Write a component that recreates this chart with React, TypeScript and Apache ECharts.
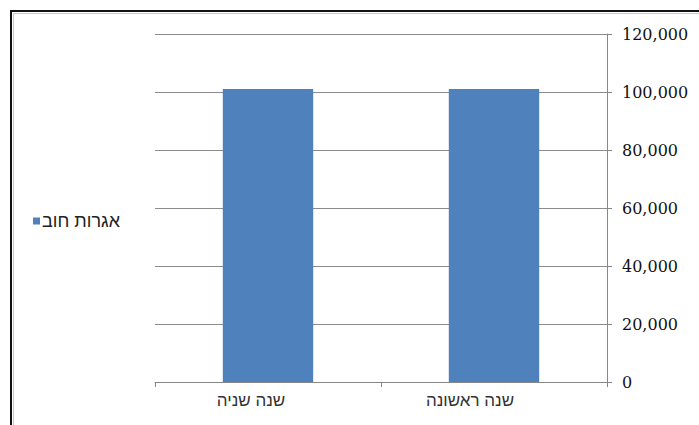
import React, { useEffect, useRef } from "react";
import * as echarts from "echarts";

// Bond fees by year (axis runs right-to-left)
const categories = ["שנה ראשונה", "שנה שניה"];
const bondValues = [101000, 101000];
const seriesName = "אגרות חוב";
const yTicks = { min: 0, max: 120000, interval: 20000 };

// Labels sit a little left of their category centres
const labelShift = [48, 34];

export default function App() {
  const ref = useRef<HTMLDivElement>(null);

  useEffect(() => {
    if (!ref.current) return;
    const chart = echarts.init(ref.current, null, { renderer: "svg" });
    chart.setOption({
      animation: false,
      backgroundColor: "#ffffff",
      graphic: [
        {
          type: "rect",
          silent: true,
          shape: { x: 11, y: 11, width: 760, height: 460 },
          style: { fill: "none", stroke: "#111111", lineWidth: 2 },
        },
        {
          type: "rect",
          silent: true,
          shape: { x: 13.5, y: 13.5, width: 760, height: 460 },
          style: { fill: "none", stroke: "#c8c8c8", lineWidth: 1 },
        },
      ],
      legend: {
        left: 28,
        top: 207,
        orient: "vertical",
        icon: "rect",
        itemWidth: 7,
        itemHeight: 7,
        itemGap: 4,
        textStyle: {
          fontFamily: "Liberation Sans, DejaVu Sans, sans-serif",
          fontSize: 18,
          color: "#222222",
          padding: [0, 0, 0, -3],
        },
        data: [seriesName],
      },
      grid: { left: 155, right: 92, top: 34, bottom: 43, containLabel: false },
      xAxis: {
        type: "category",
        data: categories.map((c, i) => ({
          value: c,
          textStyle: { padding: [0, labelShift[i], 0, 0] },
        })),
        inverse: true,
        axisLine: { show: true, lineStyle: { color: "#868686", width: 1 } },
        axisTick: { show: true, length: 5, lineStyle: { color: "#868686" } },
        axisLabel: {
          margin: 10,
          fontFamily: "Liberation Sans, DejaVu Sans, sans-serif",
          fontSize: 17,
          color: "#333333",
        },
      },
      yAxis: {
        type: "value",
        position: "right",
        min: yTicks.min,
        max: yTicks.max,
        interval: yTicks.interval,
        axisLine: { show: true, lineStyle: { color: "#868686", width: 1 } },
        axisTick: { show: true, inside: false, length: 5, lineStyle: { color: "#868686" } },
        splitLine: { show: true, lineStyle: { color: "#8c8c8c", width: 1 } },
        axisLabel: {
          margin: 15,
          fontFamily: "DejaVu Serif, serif",
          fontSize: 16,
          color: "#111111",
          formatter: (v: number) => v.toLocaleString("en-US"),
        },
      },
      series: [
        {
          name: seriesName,
          type: "bar",
          data: bondValues,
          barCategoryGap: "60%",
          itemStyle: { color: "#4f81bd" },
        },
      ],
    });
    return () => chart.dispose();
  }, []);

  return (
    <div
      ref={ref}
      style={{ position: "fixed", left: 0, top: 0, width: 699, height: 425 }}
    />
  );
}
